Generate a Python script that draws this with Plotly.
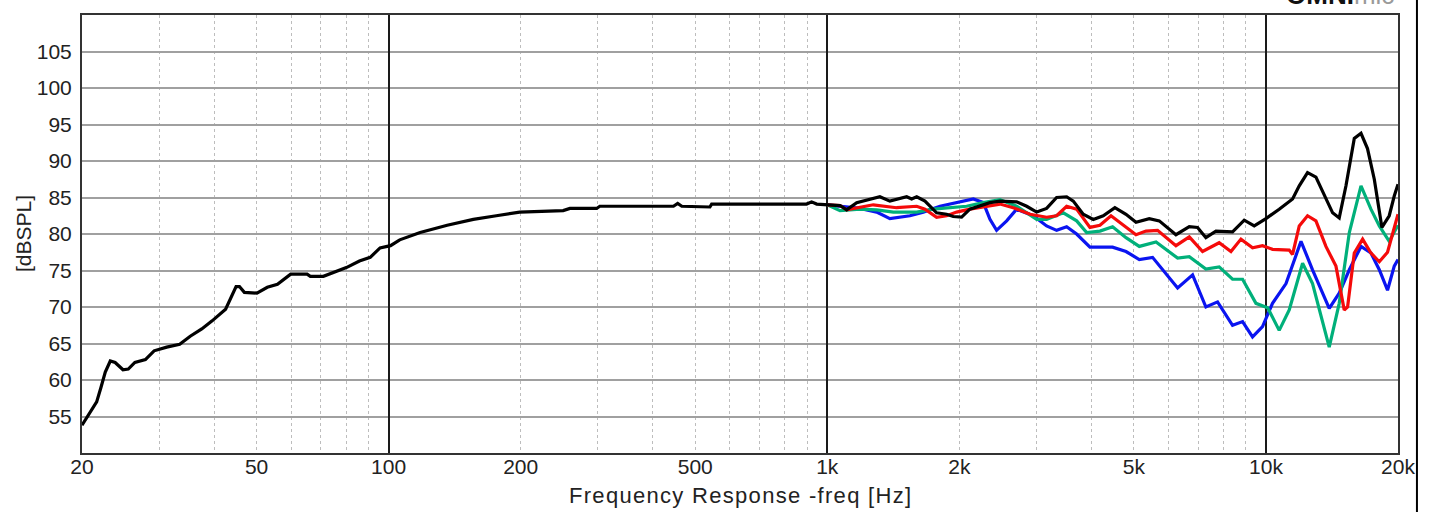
import plotly.graph_objects as go

# ---------------- data ----------------
black_freq = [20, 20.9, 21.6, 22.1, 22.6, 23.2, 23.8, 24.8, 25.5, 26.4, 27.9, 29.2, 31.2, 33.4, 35.3,
              37.5, 39.6, 42.5, 44.2, 44.9, 45.7, 46.9, 50.1, 52.9, 55.8, 59.8, 65.2, 66.3, 71.0, 74.6,
              80.1, 85.8, 90.8, 95.6, 101, 106, 118, 136, 156, 176, 199, 250, 259, 298, 303, 446, 456,
              466, 540, 545, 897, 921, 946, 1069, 1107, 1167, 1229, 1318, 1389, 1464, 1517, 1557, 1599,
              1670, 1775, 1871, 1937, 2024, 2114, 2349, 2476, 2702, 2848, 3002, 3162, 3333, 3513, 3638,
              3832, 4040, 4257, 4525, 4797, 5055, 5420, 5713, 6235, 6687, 6984, 7296, 7691, 8392, 8922,
              9404, 10000, 10720, 11500, 11910, 12440, 13000, 13460, 14190, 14690, 15220, 15900, 16470,
              17040, 17660, 18380, 19100, 19610, 20000]
black_db = [53.8, 55.6, 57.0, 59.0, 61.1, 62.6, 62.4, 61.4, 61.5, 62.4, 62.8, 64.0, 64.5, 64.9, 66.0,
            67.0, 68.1, 69.7, 72.0, 72.8, 72.8, 72.0, 71.9, 72.7, 73.1, 74.5, 74.5, 74.2, 74.2, 74.7,
            75.4, 76.3, 76.8, 78.1, 78.4, 79.2, 80.2, 81.2, 82.0, 82.5, 83.0, 83.2, 83.5, 83.5, 83.8, 83.8, 84.2,
            83.8, 83.7, 84.1, 84.1, 84.4, 84.1, 83.9, 83.3, 84.3, 84.6, 85.1, 84.5, 84.9, 85.1, 84.8, 85.1,
            84.5, 82.9, 82.7, 82.4, 82.3, 83.4, 84.3, 84.5, 84.4, 83.8, 83.0, 83.5, 85.0, 85.1, 84.5,
            82.7, 82.0, 82.5, 83.6, 82.7, 81.6, 82.1, 81.8, 79.9, 81.0, 80.9, 79.5, 80.4, 80.3, 81.9,
            81.1, 82.1, 83.4, 84.8, 86.6, 88.4, 87.8, 85.9, 82.9, 82.2, 86.6, 93.1, 93.8,
            91.7, 87.5, 80.9, 82.5, 85.2, 86.8]

red_freq = [1000, 1069, 1107, 1187, 1273, 1439, 1599, 1670, 1775, 1871, 1972, 2114, 2308, 2476, 2654,
            2898, 3162, 3333, 3513, 3702, 3970, 4184, 4434, 4710, 5055, 5327, 5662, 6235, 6687, 7170,
            7823, 8322, 8770, 9321, 9822, 10350, 11300, 11500, 11910, 12440, 13000, 13700, 14440, 15080,
            15350, 15900, 16610, 17350, 18130, 18930, 19610, 20000]
red_db = [84.0, 83.9, 83.3, 83.6, 84.0, 83.6, 83.8, 83.4, 82.3, 82.5, 83.0, 83.4, 83.8, 84.1, 83.6,
          82.7, 82.3, 82.5, 83.8, 83.4, 80.9, 81.2, 82.5, 81.3, 79.9, 80.4, 80.5, 78.4, 79.6, 77.6,
          78.8, 77.6, 79.3, 78.1, 78.4, 77.9, 77.8, 77.2, 81.1, 82.5, 81.8, 78.3, 75.6, 69.6,
          70.0, 77.4, 79.3, 77.4, 76.2, 77.5, 80.6, 82.7]

green_freq = [1000, 1069, 1187, 1296, 1414, 1599, 1744, 1904, 2078, 2268, 2476, 2702, 3002, 3162, 3452,
              3702, 3902, 4184, 4471, 4797, 5144, 5616, 6290, 6687, 7296, 7823, 8392, 8845, 9489, 10090,
              10720, 11300, 12120, 12770, 13940, 14690, 15490, 16470, 17350, 18130, 19100, 20000]
green_db = [84.0, 83.2, 83.4, 83.3, 83.0, 83.0, 83.4, 83.6, 83.8, 84.3, 84.7, 83.8, 82.0, 82.0, 82.9,
            81.8, 80.2, 80.4, 81.0, 79.5, 78.3, 78.9, 76.7, 76.9, 75.2, 75.5, 73.8, 73.8, 70.5, 69.9,
            66.8, 69.6, 76.0, 73.2, 64.5, 70.5, 80.2, 86.6, 83.4, 81.1, 79.0, 81.2]

blue_freq = [1000, 1069, 1187, 1296, 1389, 1543, 1655, 1807, 1972, 2152, 2268, 2349, 2432, 2564, 2702,
             2948, 3162, 3333, 3513, 3702, 3970, 4257, 4471, 4797, 5144, 5515, 5916, 6290, 6804, 7296,
             7757, 8392, 8845, 9321, 9822, 10350, 11110, 12020, 12770, 13940, 14690, 15490, 16470,
             17350, 18130, 18930, 19610, 20000]
blue_db = [84.0, 83.8, 83.5, 83.0, 82.1, 82.5, 83.0, 83.8, 84.3, 84.8, 84.3, 82.0, 80.5, 81.8, 83.4,
           82.5, 81.1, 80.5, 81.0, 80.0, 78.2, 78.2, 78.2, 77.6, 76.5, 76.8, 74.6, 72.6, 74.4, 70.0,
           70.7, 67.5, 68.0, 65.9, 67.3, 70.5, 73.2, 79.0, 75.1, 69.8, 71.9, 75.1, 78.3,
           77.4, 75.1, 72.3, 75.6, 76.5]

x_tick_vals = [20, 50, 100, 200, 500, 1000, 2000, 5000, 10000, 20000]
x_tick_text = ["20", "50", "100", "200", "500", "1k", "2k", "5k", "10k", "20k"]
x_major_lines = [100, 1000, 10000]
x_minor_lines = [30, 40, 50, 60, 70, 80, 90, 200, 300, 400, 500, 600, 700, 800, 900,
                 2000, 3000, 4000, 5000, 6000, 7000, 8000, 9000]
y_tick_vals = [55, 60, 65, 70, 75, 80, 85, 90, 95, 100, 105]

# ---------------- figure ----------------
fig = go.Figure()
font_family = "Liberation Sans, Arial, sans-serif"

# invisible trace that activates xaxis2 (major vertical grid lines)
fig.add_trace(go.Scatter(x=[x_tick_vals[0]], y=[y_tick_vals[0]], mode="markers",
                         marker=dict(opacity=0), xaxis="x2", yaxis="y",
                         hoverinfo="skip", showlegend=False))

series = [
    ("blue", blue_freq, blue_db, "#0a14f0"),
    ("green", green_freq, green_db, "#00b07a"),
    ("red", red_freq, red_db, "#f50a0a"),
    ("black", black_freq, black_db, "#000000"),
]
for name, fx, fy, col in series:
    fig.add_trace(go.Scatter(x=fx, y=fy, mode="lines", name=name,
                             line=dict(color=col, width=3.2), xaxis="x", yaxis="y"))

fig.update_layout(
    width=1429, height=512,
    margin=dict(l=82, r=31, t=15, b=59),
    paper_bgcolor="white", plot_bgcolor="white",
    showlegend=False,
    font=dict(family=font_family, size=21, color="#222222"),
    xaxis=dict(
        type="log", range=[1.30103, 4.30103],
        tickvals=x_tick_vals, ticktext=x_tick_text,
        showgrid=False, zeroline=False,
        showline=True, mirror=True, linecolor="#333333", linewidth=2,
        ticks="", ticklen=0, ticklabelstandoff=-6,
        tickfont=dict(size=21, color="#222222"),
        minor=dict(tickvals=x_minor_lines, showgrid=True, gridcolor="#bdbdbd",
                   griddash="dot", gridwidth=1, ticks=""),
    ),
    xaxis2=dict(
        type="log", range=[1.30103, 4.30103], overlaying="x",
        tickvals=x_major_lines, showticklabels=False,
        showgrid=True, gridcolor="#1a1a1a", gridwidth=2,
        zeroline=False, showline=False, ticks="",
    ),
    yaxis=dict(
        range=[50, 110], tickvals=y_tick_vals,
        showgrid=True, gridcolor="#a0a0a0", gridwidth=2,
        zeroline=False, showline=True, mirror=True, linecolor="#333333", linewidth=2,
        ticks="", ticklen=0, ticklabelstandoff=4,
        tickfont=dict(size=21, color="#222222"),
    ),
)

fig.add_annotation(text="[dBSPL]", xref="paper", yref="paper", x=0, y=0.5,
                   xanchor="center", yanchor="middle", xshift=-59, textangle=-90,
                   showarrow=False, font=dict(size=21, color="#222222", family=font_family))
fig.add_annotation(text="<span style='letter-spacing:1.3px'>Frequency Response -freq [Hz]</span>",
                   xref="paper", yref="paper", x=0.5, y=0,
                   xanchor="center", yanchor="middle", yshift=-42,
                   showarrow=False, font=dict(size=22, color="#222222", family=font_family))
fig.add_annotation(text="<b>OMNI</b><span style='color:#9a9a9a'>mic</span>",
                   xref="paper", yref="paper", x=1, y=1, xanchor="right", yanchor="bottom",
                   xshift=-2, yshift=3, showarrow=False,
                   font=dict(size=26, color="#111111", family=font_family))
# right-hand frame line of the page
fig.add_shape(type="line", xref="paper", yref="paper", x0=1.0144, x1=1.0144, y0=-0.2, y1=1.1,
              line=dict(color="#000000", width=2))

fig.write_html("out.html", config={"displayModeBar": False},
               post_script="document.body.style.margin='0';")
